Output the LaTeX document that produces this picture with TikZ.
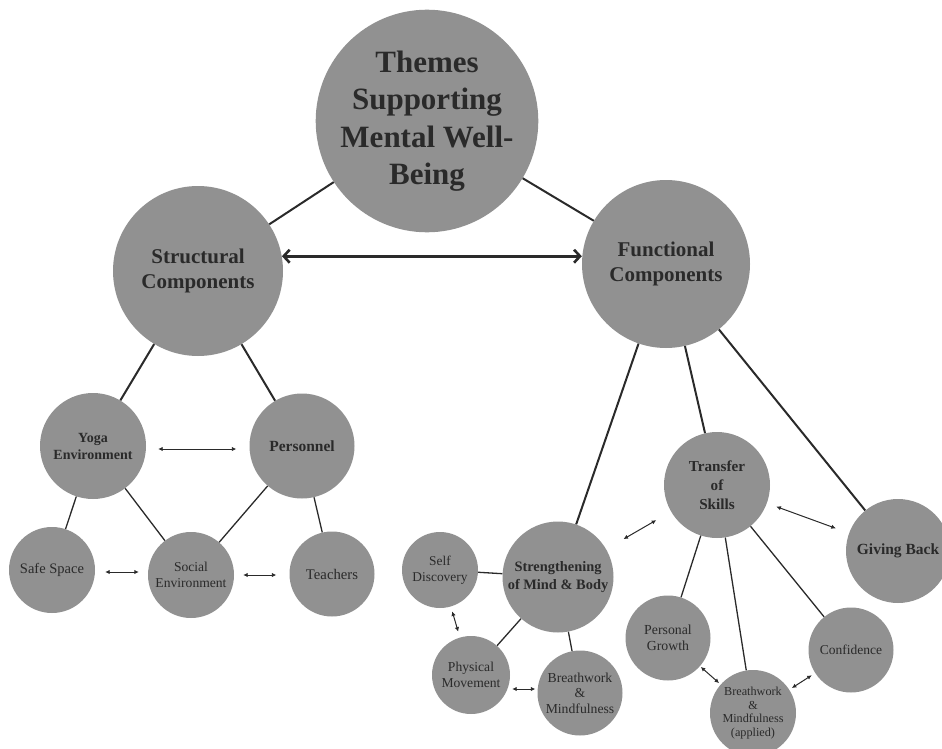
\documentclass[tikz,border=0pt]{standalone}
\usepackage{fontspec}
\setmainfont{Liberation Serif}
\usetikzlibrary{arrows.meta}
\definecolor{bubble}{RGB}{145,145,145}
\definecolor{ink}{RGB}{42,42,42}
\begin{document}
\begin{tikzpicture}[x=1pt, y=-1pt, every node/.style={circle, fill=bubble, text=ink, align=center, inner sep=0pt}]
\tikzstyle{trunk}=[draw=ink, line width=2pt]
\tikzstyle{twig}=[draw=ink, line width=1.3pt]
\tikzstyle{pair}=[draw=ink, line width=1pt, {Latex[length=4.5pt,width=4.5pt]}-{Latex[length=4.5pt,width=4.5pt]}]
\useasboundingbox (0,0) rectangle (942,749);
\clip (0,0) rectangle (942,749);
\node[minimum size=221pt, font=\bfseries\fontsize{31}{37.5}\selectfont] (themes) at (427,121) {Themes\\Supporting\\Mental Well-\\Being};
\node[minimum size=170pt, font=\bfseries\fontsize{21}{25.5}\selectfont] (struct) at (198,271) {Structural\\Components};
\node[minimum size=168pt, font=\bfseries\fontsize{21}{25.5}\selectfont] (func) at (666,264) {Functional\\Components};
\node[minimum size=106pt, font=\bfseries\fontsize{14}{17}\selectfont] (yoga) at (93,446) {Yoga\\Environment};
\node[minimum size=105pt, font=\bfseries\fontsize{15.5}{18}\selectfont] (staff) at (302,446) {Personnel};
\node[minimum size=86pt, font=\fontsize{14.5}{16}\selectfont] (safe) at (52,570) {Safe Space};
\node[minimum size=86pt, font=\fontsize{13.6}{15.5}\selectfont] (social) at (191,575) {Social\\Environment};
\node[minimum size=85pt, font=\fontsize{14.7}{16}\selectfont] (teach) at (332,574) {Teachers};
\node[minimum size=76pt, font=\fontsize{13.4}{15.7}\selectfont] (self) at (440,570) {Self\\Discovery};
\node[minimum size=111pt, font=\bfseries\fontsize{14.4}{17.7}\selectfont] (mind) at (558,577) {Strengthening\\of Mind \& Body};
\node[minimum size=78pt, font=\fontsize{13.6}{15.5}\selectfont] (move) at (471,675) {Physical\\Movement};
\node[minimum size=85pt, font=\fontsize{13.7}{15.5}\selectfont] (breath) at (580,693) {Breathwork\\\&\\Mindfulness};
\node[minimum size=106pt, font=\bfseries\fontsize{15.2}{19}\selectfont] (transfer) at (717,485) {Transfer\\of\\Skills};
\node[minimum size=104pt, font=\bfseries\fontsize{15.5}{19}\selectfont] (giving) at (898,551) {Giving Back};
\node[minimum size=85pt, font=\fontsize{13.8}{15.5}\selectfont] (growth) at (668,638) {Personal\\Growth};
\node[minimum size=86pt, font=\fontsize{12.2}{13.7}\selectfont] (applied) at (753,713) {Breathwork\\\&\\Mindfulness\\(applied)};
\node[minimum size=85pt, font=\fontsize{13.5}{15.5}\selectfont] (conf) at (851,650) {Confidence};
\draw[trunk] (themes) -- (struct);
\draw[trunk] (themes) -- (func);
\draw[draw=ink, line width=2.6pt, {Straight Barb[length=6pt,width=13pt]}-{Straight Barb[length=6pt,width=13pt]}] (struct.10) -- (func.west |- struct.10);
\draw[trunk] (struct) -- (yoga);
\draw[trunk] (struct) -- (staff);
\draw[twig] (yoga) -- (safe);
\draw[twig] (yoga) -- (social);
\draw[twig] (staff) -- (social);
\draw[twig] (staff) -- (teach);
\draw[pair, shorten <=12pt, shorten >=13pt] (yoga.east |- 0,449) -- (staff.west |- 0,449);
\draw[pair, shorten <=10pt, shorten >=9pt] (safe.east |- 0,572) -- (social.west |- 0,572);
\draw[pair, shorten <=9pt, shorten >=13pt] (social.east) -- (teach.west |- social.east);
\draw[trunk] (func) -- (mind);
\draw[trunk] (func) -- (transfer);
\draw[trunk] (func) -- (giving);
\draw[twig] (mind) -- (self);
\draw[twig] (mind) -- (move);
\draw[twig] (mind) -- (breath);
\draw[twig] (transfer) -- (growth);
\draw[twig] (transfer) -- (applied);
\draw[twig] (transfer) -- (conf);
\draw[pair, shorten <=20pt, shorten >=17pt] (mind) -- (transfer);
\draw[pair, shorten <=10pt, shorten >=14pt] (transfer) -- (giving);
\draw[pair, shorten <=5pt, shorten >=6pt] (self) -- (move);
\draw[pair, shorten <=2pt, shorten >=2pt] (move.east |- 0,689) -- (breath.west |- 0,689);
\draw[pair, shorten <=1pt, shorten >=2pt] (growth) -- (applied);
\draw[pair, shorten <=3pt, shorten >=4pt] (applied) -- (conf);
\end{tikzpicture}
\end{document}
